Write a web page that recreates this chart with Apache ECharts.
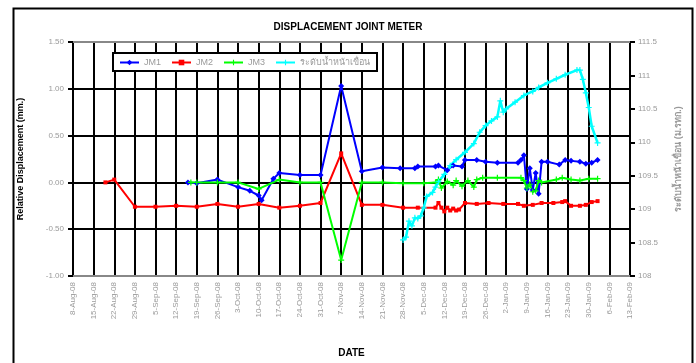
<!DOCTYPE html>
<html>
<head>
<meta charset="utf-8">
<script src="https://cdn.jsdelivr.net/npm/echarts@6/dist/echarts.min.js"></script>
<style>
  html, body { margin: 0; padding: 0; background: #fff; }
  #chart { width: 696px; height: 363px; }
</style>
</head>
<body>
<div id="chart"></div>
<script>
// Time span of the date axis (weekly ticks from the start date)
const startDate = '2008-08-08';
const endDate = '2009-02-13';

// JM1 joint meter readings (mm.)
const jm1Dates = ['2008-09-16','2008-09-19','2008-09-26','2008-10-03','2008-10-07','2008-10-10','2008-10-11','2008-10-15','2008-10-17','2008-10-24','2008-10-31','2008-11-07','2008-11-14','2008-11-21','2008-11-27','2008-12-02','2008-12-03','2008-12-09','2008-12-10','2008-12-13','2008-12-15','2008-12-18','2008-12-19','2008-12-23','2008-12-26','2008-12-30','2009-01-06','2009-01-07','2009-01-08','2009-01-09','2009-01-10','2009-01-11','2009-01-12','2009-01-13','2009-01-14','2009-01-16','2009-01-20','2009-01-22','2009-01-24','2009-01-27','2009-01-29','2009-01-31','2009-02-02'];
const jm1Values = [0.00,-0.01,0.03,-0.05,-0.09,-0.14,-0.19,0.04,0.10,0.08,0.08,1.03,0.12,0.16,0.15,0.15,0.17,0.17,0.18,0.13,0.18,0.17,0.24,0.24,0.22,0.21,0.21,0.24,0.29,-0.07,0.15,-0.08,0.10,-0.12,0.22,0.22,0.19,0.24,0.23,0.22,0.20,0.21,0.24];

// JM2 joint meter readings (mm.)
const jm2Dates = ['2008-08-19','2008-08-22','2008-08-29','2008-09-05','2008-09-12','2008-09-19','2008-09-26','2008-10-03','2008-10-10','2008-10-17','2008-10-24','2008-10-31','2008-11-07','2008-11-14','2008-11-21','2008-11-28','2008-12-03','2008-12-09','2008-12-10','2008-12-11','2008-12-12','2008-12-13','2008-12-14','2008-12-15','2008-12-16','2008-12-17','2008-12-19','2008-12-23','2008-12-27','2009-01-01','2009-01-06','2009-01-08','2009-01-11','2009-01-14','2009-01-18','2009-01-21','2009-01-22','2009-01-24','2009-01-27','2009-01-29','2009-01-31','2009-02-02'];
const jm2Values = [0.00,0.03,-0.26,-0.26,-0.25,-0.26,-0.23,-0.26,-0.23,-0.27,-0.25,-0.22,0.31,-0.24,-0.24,-0.27,-0.27,-0.27,-0.22,-0.27,-0.31,-0.27,-0.30,-0.28,-0.30,-0.29,-0.22,-0.23,-0.22,-0.23,-0.23,-0.25,-0.24,-0.22,-0.22,-0.21,-0.20,-0.25,-0.25,-0.24,-0.21,-0.20];

// JM3 joint meter readings (mm.)
const jm3Dates = ['2008-09-17','2008-09-19','2008-09-26','2008-10-03','2008-10-10','2008-10-17','2008-10-24','2008-10-31','2008-11-07','2008-11-14','2008-11-21','2008-11-28','2008-12-05','2008-12-09','2008-12-10','2008-12-11','2008-12-13','2008-12-15','2008-12-16','2008-12-18','2008-12-20','2008-12-22','2008-12-23','2008-12-25','2008-12-30','2009-01-07','2009-01-08','2009-01-09','2009-01-10','2009-01-11','2009-01-12','2009-01-13','2009-01-14','2009-01-19','2009-01-21','2009-01-24','2009-01-27','2009-01-30','2009-02-02'];
const jm3Values = [0.00,0.00,0.00,0.00,-0.07,0.03,0.00,0.00,-0.83,0.00,0.00,-0.01,-0.01,0.00,0.03,-0.06,0.01,-0.03,0.02,-0.04,0.02,-0.05,0.03,0.05,0.05,0.05,0.02,-0.06,-0.02,-0.10,-0.09,0.02,0.00,0.03,0.05,0.03,0.02,0.04,0.04];

// Reservoir level in front of the dam (m. MSL)
const levelDates = ['2008-11-28','2008-11-29','2008-11-30','2008-12-01','2008-12-02','2008-12-03','2008-12-04','2008-12-05','2008-12-06','2008-12-08','2008-12-09','2008-12-10','2008-12-12','2008-12-14','2008-12-16','2008-12-19','2008-12-22','2008-12-24','2008-12-26','2008-12-28','2008-12-30','2008-12-31','2009-01-01','2009-01-02','2009-01-05','2009-01-08','2009-01-11','2009-01-13','2009-01-16','2009-01-19','2009-01-22','2009-01-26','2009-01-27','2009-01-28','2009-01-29','2009-01-30','2009-01-31','2009-02-02'];
const levelValues = [108.54,108.58,108.82,108.75,108.87,108.86,108.90,109.02,109.19,109.25,109.33,109.41,109.52,109.65,109.74,109.85,109.98,110.15,110.25,110.32,110.38,110.62,110.45,110.50,110.60,110.70,110.76,110.82,110.89,110.95,111.01,111.08,111.08,110.94,110.74,110.52,110.24,109.99];

const levelName = 'ระดับน้ำหน้าเขื่อน';
const MONTHS = ['Jan','Feb','Mar','Apr','May','Jun','Jul','Aug','Sep','Oct','Nov','Dec'];
const DAY = 86400000;

function toMs(s) {
  const [y, m, d] = s.split('-').map(Number);
  return Date.UTC(y, m - 1, d);
}
const t0 = toMs(startDate);
// day offset from the start of the axis
function dayOf(s) { return Math.round((toMs(s) - t0) / DAY); }
function dayLabel(n) {
  const d = new Date(t0 + n * DAY);
  return d.getUTCDate() + '-' + MONTHS[d.getUTCMonth()] + '-' + String(d.getUTCFullYear() % 100).padStart(2, '0');
}
function pairs(dates, values) { return dates.map((s, i) => [dayOf(s), values[i]]); }

const plusPath = 'path://M2,0H3V2H5V3H3V5H2V3H0V2H2Z';
const labelColor = '#9a9a9a';
const font = 'Liberation Sans, Arial, sans-serif';
const lastDay = dayOf(endDate);

const chart = echarts.init(document.getElementById('chart'), null, { renderer: 'canvas' });
chart.setOption({
  animation: false,
  backgroundColor: '#fff',
  textStyle: { fontFamily: font },
  graphic: [{
    type: 'rect', left: 11, top: 6, z: 100, silent: true,
    shape: { width: 679, height: 370 },
    style: { fill: 'none', stroke: '#000', lineWidth: 2 }
  }],
  title: {
    text: 'DISPLACEMENT JOINT METER',
    left: 'center', top: 17,
    textStyle: { fontSize: 10, fontWeight: 'bold', color: '#000', fontFamily: font }
  },
  legend: {
    left: 113, top: 53,
    backgroundColor: '#fff',
    borderColor: '#000', borderWidth: 2,
    padding: [5, 7, 4, 6],
    itemWidth: 19, itemHeight: 7, itemGap: 10,
    textStyle: { color: labelColor, fontSize: 9, fontFamily: font },
    data: ['JM1', 'JM2', 'JM3', levelName]
  },
  grid: { left: 73, right: 66, top: 42, bottom: 85 },
  xAxis: [{
    type: 'value', min: 0, max: lastDay, interval: 7, position: 'bottom',
    name: 'DATE', nameLocation: 'middle', nameGap: 72,
    nameTextStyle: { fontSize: 10, fontWeight: 'bold', color: '#000' },
    axisLine: { onZero: false, lineStyle: { color: '#888', width: 2 } },
    axisTick: { show: false },
    axisLabel: { rotate: 90, fontSize: 8, color: labelColor, margin: 6, formatter: dayLabel },
    splitLine: { show: true, lineStyle: { color: '#000', width: 2 } }
  }, {
    // plain frame edge along the top of the plot
    type: 'value', min: 0, max: lastDay, interval: 7, position: 'top',
    axisLine: { show: true, onZero: false, lineStyle: { color: '#888', width: 2 } },
    axisTick: { show: false }, axisLabel: { show: false }, splitLine: { show: false }
  }],
  yAxis: [{
    type: 'value', min: -1, max: 1.5, interval: 0.5, position: 'left',
    name: 'Relative Displacement (mm.)', nameLocation: 'middle', nameGap: 48, nameRotate: 90,
    nameTextStyle: { fontSize: 9, fontWeight: 'bold', color: '#000' },
    axisLine: { show: true, onZero: false, lineStyle: { color: '#000', width: 2 } },
    axisTick: { show: true, length: 5, lineStyle: { color: '#000', width: 2 } },
    axisLabel: { fontSize: 8, color: labelColor, margin: 9, formatter: v => v.toFixed(2) },
    splitLine: { show: true, showMaxLine: false, showMinLine: false, lineStyle: { color: '#000', width: 2 } }
  }, {
    type: 'value', min: 108, max: 111.5, interval: 0.5, position: 'right',
    name: 'ระดับน้ำหน้าเขื่อน (ม.รทก.)', nameLocation: 'middle', nameGap: 44, nameRotate: 90,
    nameTextStyle: { fontSize: 9, fontWeight: 'bold', color: '#999' },
    axisLine: { show: true, onZero: false, lineStyle: { color: '#000', width: 2 } },
    axisTick: { show: true, length: 5, lineStyle: { color: '#000', width: 2 } },
    axisLabel: { fontSize: 8, color: labelColor, margin: 8 },
    splitLine: { show: false }
  }],
  series: [{
    name: 'JM1', type: 'line', yAxisIndex: 0, data: pairs(jm1Dates, jm1Values),
    symbol: 'diamond', symbolSize: 6,
    lineStyle: { color: '#0000ff', width: 2 }, itemStyle: { color: '#0000ff' }
  }, {
    name: 'JM2', type: 'line', yAxisIndex: 0, data: pairs(jm2Dates, jm2Values),
    symbol: 'rect', symbolSize: 4,
    lineStyle: { color: '#ff0000', width: 2 }, itemStyle: { color: '#ff0000' }
  }, {
    name: 'JM3', type: 'line', yAxisIndex: 0, data: pairs(jm3Dates, jm3Values),
    symbol: plusPath, symbolSize: 6,
    lineStyle: { color: '#00ff00', width: 2 }, itemStyle: { color: '#00ff00' }
  }, {
    name: levelName, type: 'line', yAxisIndex: 1, data: pairs(levelDates, levelValues),
    symbol: plusPath, symbolSize: 6,
    lineStyle: { color: '#00ffff', width: 2.5 }, itemStyle: { color: '#00ffff' }
  }]
});
</script>
</body>
</html>
